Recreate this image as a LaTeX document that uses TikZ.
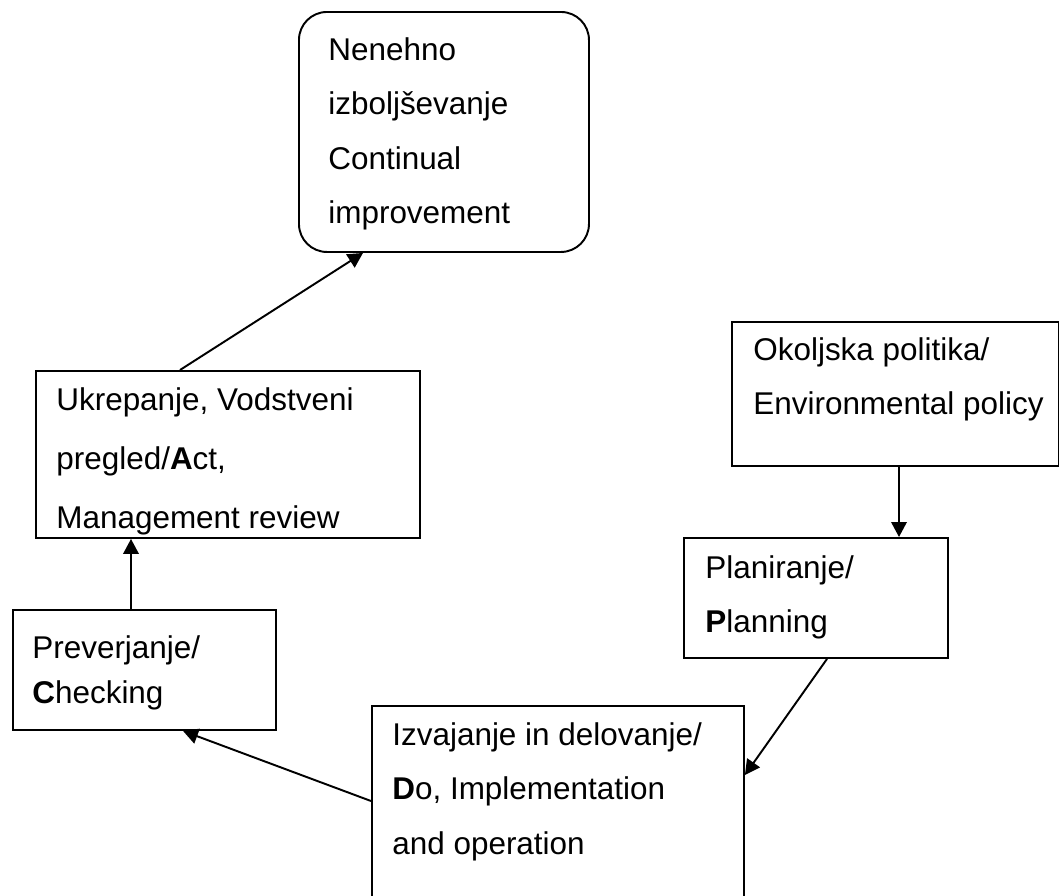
\documentclass[tikz,border=0pt]{standalone}
\usepackage{fontspec}
\setmainfont{Liberation Sans}
\usetikzlibrary{arrows.meta}

\begin{document}
\begin{tikzpicture}[
    box/.style={draw, line width=1.1pt, inner sep=0pt, anchor=north west},
    txt/.style={anchor=north west, inner sep=0pt, align=left, font=\fontsize{17.9}{31}\selectfont},
    arr/.style={line width=1.1pt, -{Triangle[length=0.3cm,width=0.31cm]}}]
        \useasboundingbox (0,0) rectangle (21.18,-17.92);
        % boxes
        \node[box, rounded corners=0.56cm, minimum width=5.8cm, minimum height=4.8cm] (impr) at (5.96,-0.22) {};
        \node[box, minimum width=7.68cm, minimum height=3.34cm] (act) at (0.70,-7.40) {};
        \node[box, minimum width=6.54cm, minimum height=2.88cm] (policy) at (14.62,-6.42) {};
        \node[box, minimum width=5.28cm, minimum height=2.40cm] (plan) at (13.66,-10.74) {};
        \node[box, minimum width=5.26cm, minimum height=2.40cm] (check) at (0.24,-12.18) {};
        \node[box, minimum width=7.44cm, minimum height=4.60cm] (do) at (7.42,-14.10) {};
        % texts
        \node[txt] (impr-t) at (6.56,-0.70) {\rule{0pt}{0.5cm}Nenehno\\izboljševanje\\Continual\\improvement};
        \node[txt, font=\fontsize{17.9}{33.5}\selectfont] (act-t) at (1.12,-7.70) {\rule{0pt}{0.5cm}Ukrepanje, Vodstveni\\pregled/\textbf{A}ct,\\Management review};
        \node[txt] (policy-t) at (15.06,-6.70) {\rule{0pt}{0.5cm}Okoljska politika/\\Environmental policy};
        \node[txt] (plan-t) at (14.10,-11.06) {\rule{0pt}{0.5cm}Planiranje/\\\textbf{P}lanning};
        \node[txt, font=\fontsize{17.9}{25.6}\selectfont] (check-t) at (0.64,-12.66) {\rule{0pt}{0.5cm}Preverjanje/\\\textbf{C}hecking};
        \node[txt] (do-t) at (7.84,-14.40) {\rule{0pt}{0.5cm}Izvajanje in delovanje/\\\textbf{D}o, Implementation\\and operation};
        % arrows
        \draw[arr] ([xshift=2.90cm]act.north west) -- ([xshift=1.30cm]impr.south west);
        \draw[arr] ([xshift=2.38cm]check.north west) -- ([xshift=1.92cm]act.south west);
        \draw[arr] ([xshift=3.36cm]policy.south west) -- ([xshift=4.32cm]plan.north west);
        \draw[arr] ([xshift=2.88cm]plan.south west) -- ([yshift=-1.40cm]do.north east);
        \draw[arr] ([yshift=-1.92cm]do.north west) -- ([xshift=3.42cm]check.south west);
\end{tikzpicture}
\end{document}
